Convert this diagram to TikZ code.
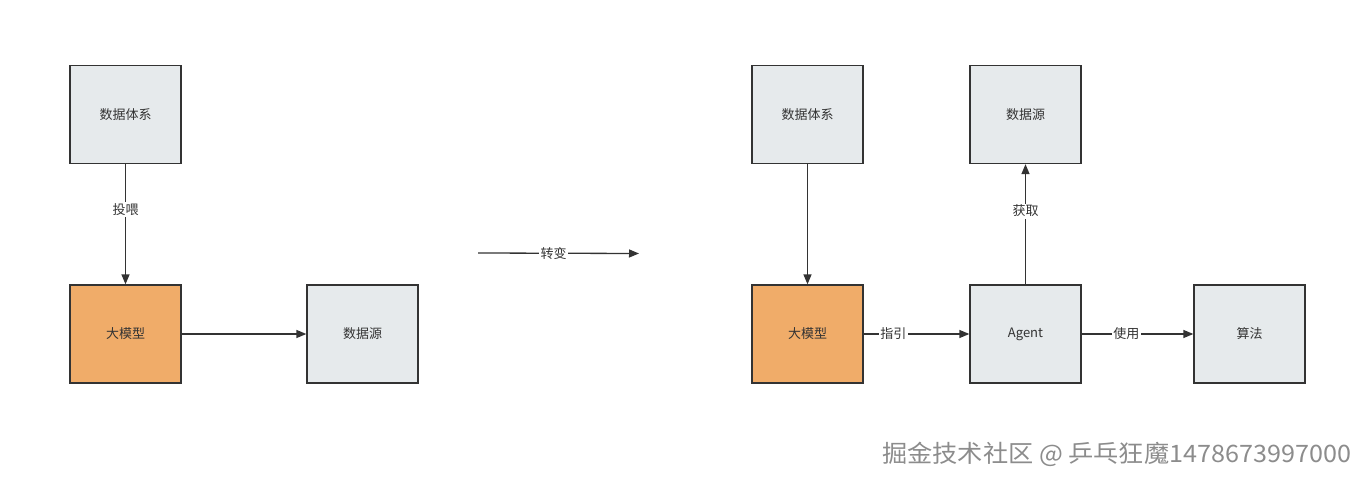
\documentclass[tikz,border=0pt]{standalone}
\usepackage{fontspec}
\setmainfont{Noto Sans CJK SC}
\usetikzlibrary{arrows.meta}
\definecolor{boxgray}{HTML}{E6EAEC}
\definecolor{boxorange}{HTML}{F0AC69}
\definecolor{edge}{HTML}{333333}
\tikzset{
  box/.style={draw=edge, line width=1.3pt, minimum width=111pt, minimum height=98pt, inner sep=0pt, font=\fontsize{13}{15}\selectfont, text=black!80},
  gbox/.style={box, fill=boxgray},
  obox/.style={box, fill=boxorange},
  conn/.style={draw=edge, line width=1.3pt, -{Triangle[length=10pt,width=8pt]}},
  lbl/.style={fill=white, inner sep=1.5pt, font=\fontsize{13}{15}\selectfont, text=black!80},
}
\begin{document}
\begin{tikzpicture}[x=1pt,y=-1pt]
\useasboundingbox (0,0) rectangle (1366,484);
% left diagram
\node[gbox] (lsys) at (125.5,114.5) {数据体系};
\node[obox] (llm) at (125.5,334) {大模型};
\node[gbox] (lsrc) at (362.5,334) {数据源};
\draw[conn] (lsys) -- node[lbl, pos=0.38] {投喂} (llm);
\draw[conn] (llm) -- (lsrc);
% transition
\coordinate (ta) at (478,253);
\coordinate (tb) at (639,253.5);
\draw[conn] (ta) -- node[lbl, pos=0.47] {转变} (tb);
% right diagram
\node[gbox] (rsys) at (807.5,114.5) {数据体系};
\node[gbox] (rsrc) at (1025.5,114.5) {数据源};
\node[obox] (rllm) at (807.5,334) {大模型};
\node[gbox] (agent) at (1025.5,334) {Agent};
\node[gbox] (algo) at (1249.5,334) {算法};
\draw[conn] (rsys) -- (rllm);
\draw[conn] (rllm) -- node[lbl, pos=0.28] {指引} (agent);
\draw[conn] (agent) -- node[lbl, pos=0.61] {获取} (rsrc);
\draw[conn] (agent) -- node[lbl, pos=0.40] {使用} (algo);
% watermark
\node[anchor=west, inner sep=0pt, xscale=1.05, font=\fontsize{24}{28}\selectfont, text=black!45] (wm) at (882,454) {掘金技术社区 @ 乒乓狂魔1478673997000};
\end{tikzpicture}
\end{document}
